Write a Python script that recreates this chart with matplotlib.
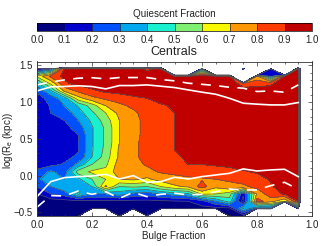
# Quiescent fraction map for centrals
import numpy as np
import matplotlib
matplotlib.use('Agg')
import matplotlib.pyplot as plt

plt.rcParams['font.family'] = ['Liberation Sans', 'DejaVu Sans']
plt.rcParams['mathtext.fontset'] = 'custom'
plt.rcParams['mathtext.rm'] = 'Liberation Sans'
plt.rcParams['mathtext.it'] = 'Liberation Sans'

X = -5  # no data in this cell

bulge_fraction = [0.0, 0.05, 0.1, 0.15, 0.2, 0.25, 0.3, 0.35, 0.4, 0.45,
                  0.5, 0.55, 0.6, 0.65, 0.7, 0.75, 0.8, 0.85, 0.9, 0.95, 1.0]
log_re = [1.55, 1.45, 1.35, 1.25, 1.15, 1.05, 0.95, 0.85, 0.75, 0.65, 0.55,
          0.45, 0.35, 0.25, 0.15, 0.05, -0.05, -0.15, -0.25, -0.35, -0.45, -0.55]

# one list per bulge fraction column, from log_re = 1.45 down to -0.55
col_00 = [.08, .62, .38, .22, .14, .13, .13, .13, .13, .13, .13, .13, .14, .16, .22, .27, .2, .09, .05, .03, .03]
col_05 = [.2, .82, .62, .38, .25, .21, .2, .15, .15, .15, .15, .15, .15, .17, .32, .38, .3, .2, .05, .03, .03]
col_10 = [.92, .93, .88, .72, .35, .3, .24, .2, .16, .15, .15, .15, .17, .21, .25, .3, .38, .25, .06, .03, .03]
col_15 = [.95, .95, .93, .82, .66, .41, .35, .3, .25, .2, .19, .19, .22, .33, .55, .38, .35, .42, .07, .03, .03]
col_20 = [.96, .95, .95, .88, .77, .55, .48, .42, .39, .39, .39, .39, .4, .5, .62, .5, .4, .3, .07, .03, X]
col_25 = [.95, .96, .95, .92, .82, .7, .6, .55, .52, .52, .52, .53, .55, .58, .63, .6, .72, .3, .07, .03, X]
col_30 = [.92, .95, .96, .94, .84, .78, .73, .7, .7, .7, .7, .72, .72, .75, .76, .7, .5, .35, .08, .04, .02]
col_35 = [.95, .96, .96, .95, .88, .82, .78, .77, .77, .77, .78, .78, .78, .77, .78, .72, .52, .27, .07, .04, X]
col_40 = [.88, .96, .96, .95, .9, .86, .84, .83, .83, .83, .83, .83, .83, .81, .77, .68, .5, .25, .07, .05, .03]
col_45 = [.92, .93, .96, .95, .93, .89, .88, .87, .87, .87, .87, .87, .87, .85, .81, .74, .6, .3, .08, .05, X]
col_50 = [X, .92, .95, .95, .93, .91, .9, .9, .9, .9, .9, .9, .89, .87, .82, .77, .68, .35, .09, .06, X]
col_55 = [X, .94, .95, .96, .95, .93, .92, .91, .92, .92, .92, .92, .91, .9, .84, .78, .72, .38, .1, .06, X]
col_60 = [.25, .95, .96, .96, .96, .96, .95, .94, .93, .92, .92, .92, .92, .9, .85, .79, .84, .62, .15, .07, X]
col_65 = [X, .95, .96, .97, .97, .96, .96, .95, .95, .94, .94, .93, .92, .91, .86, .8, .72, .6, .3, .06, X]
col_70 = [X, .96, .97, .97, .97, .97, .97, .96, .96, .95, .95, .94, .93, .92, .87, .81, .78, .55, .45, .06, .03]
col_75 = [.3, X, .85, .95, .97, .97, .97, .97, .97, .96, .96, .95, .95, .94, .89, .84, .78, .12, .05, .42, .03]
col_80 = [X, .72, .87, .94, .97, .97, .97, .97, .97, .96, .96, .95, .95, .94, .91, .86, .83, .72, .85, .15, X]
col_85 = [.1, .2, .88, .95, .97, .97, .97, .97, .97, .97, .96, .96, .96, .95, .93, .91, .89, .86, .74, .2, X]
col_90 = [X, .92, .96, .97, .97, .97, .97, .97, .97, .97, .97, .96, .96, .96, .95, .94, .94, .91, .6, X, X]
col_95 = [.92, .95, .96, .97, .97, .97, .97, .97, .97, .97, .97, .97, .97, .96, .96, .96, .96, .95, .9, .05, X]

columns = [col_00, col_05, col_10, col_15, col_20, col_25, col_30, col_35, col_40, col_45,
           col_50, col_55, col_60, col_65, col_70, col_75, col_80, col_85, col_90, col_95]

# white curves, one value per bulge fraction up to 0.95
upper_solid = [1.15, 1.205, 1.21, 1.22, 1.21, 1.178, 1.223, 1.223, 1.232, 1.214,
               1.196, 1.164, 1.133, 1.105, 1.05, .983, .97, .96, .96, .992]
upper_dashed = [1.232, 1.27, 1.30, 1.323, 1.33, 1.314, 1.332, 1.332, 1.332, 1.305,
                1.287, 1.255, 1.24, 1.223, 1.2, 1.187, 1.142, 1.15, 1.132, 1.232]
lower_solid = [-.287, -.083, -.028, -.015, -.006, .017, -.047, -.001, -.092, -.083,
               -.024, -.047, -.015, .008, .03, .09, .062, .076, .085, -.015]
lower_dashed = [-.43, -.273, -.278, -.21, -.255, -.22, -.31, -.228, -.287, -.255,
                -.24, -.264, -.255, -.22, -.183, -.196, -.196, -.137, -.092, -.187]

levels = [0.0, 0.1, 0.2, 0.3, 0.4, 0.5, 0.6, 0.7, 0.8, 0.9, 1.0]
colors = ['#00007f', '#0000cc', '#0050ff', '#00a8f0', '#18f0d0',
          '#80f070', '#f8f800', '#ff9800', '#ff3c00', '#c00000']

# pad with an empty column on the right and an empty row on top
z = np.array(columns + [[X] * 21]).T
z = np.vstack([np.full(21, X), z])

W, H = 329, 246
fig = plt.figure(figsize=(W / 100, H / 100), dpi=100)
ax = fig.add_axes([37 / W, 1 - 216 / H, 275 / W, 154.5 / H])

cf = ax.contourf(bulge_fraction, log_re, z, levels=levels, colors=colors)
ax.contour(bulge_fraction, log_re, z, levels=levels, colors='#555555', linewidths=0.5)

xs = bulge_fraction[:-1]
ax.plot(xs, upper_solid, color='white', lw=1.2)
ax.plot(xs, lower_solid, color='white', lw=1.2)
ax.plot(xs, upper_dashed, color='white', lw=1.2, dashes=(6, 5))
ax.plot(xs, lower_dashed, color='white', lw=1.2, dashes=(6, 5))

ax.set_xlim(0, 1)
ax.set_ylim(-0.55, 1.55)
ax.set_xticks(np.arange(0, 1.01, 0.2))
ax.set_xticks(np.arange(0, 1.01, 0.05), minor=True)
ax.set_yticks([-0.5, 0.0, 0.5, 1.0, 1.5])
ax.set_yticks(np.arange(-0.5, 1.51, 0.1), minor=True)
ax.tick_params(which='major', direction='in', top=True, right=True, length=3, width=0.5,
               labelsize=7, pad=3, color='#333333', labelcolor='#222222')
ax.tick_params(which='minor', direction='in', top=True, right=True, length=1.5, width=0.5,
               color='#333333')
for s in ax.spines.values():
    s.set_linewidth(0.6)
    s.set_color('#333333')

fig.text(174 / W, 1 - 236 / H, 'Bulge Fraction', ha='center', va='center', fontsize=7.1, color='#222222')
fig.text(8 / W, 1 - 140 / H, 'log(R$_e$ (kpc))', rotation=90, ha='center', va='center', fontsize=7.1, color='#222222')
fig.text(174 / W, 1 - 52 / H, 'Centrals', ha='center', va='center', fontsize=9, color='#222222')
fig.text(174 / W, 1 - 14 / H, 'Quiescent Fraction', ha='center', va='center', fontsize=7.1, color='#222222')

cax = fig.add_axes([37 / W, 1 - 31 / H, 275 / W, 7.7 / H])
cb = fig.colorbar(cf, cax=cax, orientation='horizontal', ticks=levels, drawedges=True)
cb.dividers.set_color('#222222')
cb.dividers.set_linewidth(0.5)
cb.outline.set_linewidth(0.5)
cb.ax.xaxis.set_major_formatter('{x:.1f}')
cb.ax.tick_params(length=0, labelsize=7, pad=3, labelcolor='#222222')
cb.ax.minorticks_off()

fig.savefig('out.png', dpi=100)
